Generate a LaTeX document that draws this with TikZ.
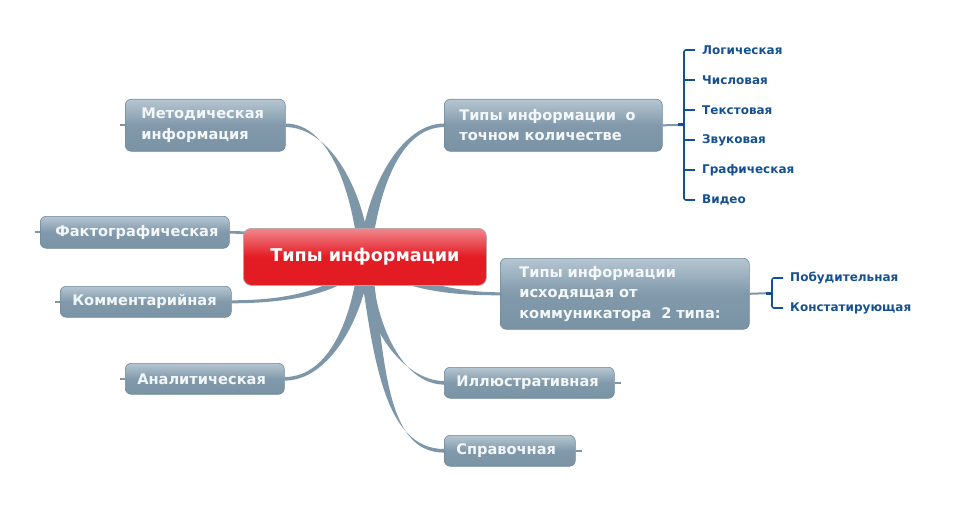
\documentclass[tikz,border=0pt]{standalone}
\usepackage{fontspec}
\setmainfont{DejaVu Sans}
\usetikzlibrary{calc}
\pgfdeclarelayer{bg}
\pgfsetlayers{bg,main}
\definecolor{boxtop}{HTML}{B5C6D1}
\definecolor{boxmid}{HTML}{8199AB}
\definecolor{boxbot}{HTML}{7993A5}
\definecolor{boxedge}{HTML}{6F899B}
\definecolor{branchcol}{HTML}{7D97A9}
\definecolor{redtop}{HTML}{F2868C}
\definecolor{redmain}{HTML}{E31B23}
\definecolor{rededge}{HTML}{B9A6A8}
\definecolor{listblue}{HTML}{16508F}
\definecolor{boxtext}{HTML}{F4F7F9}
\hyphenpenalty=10000
\exhyphenpenalty=10000
\newcommand\mmbranch[6]{\fill[branchcol] ($#1+#5$) .. controls ($#1+#2+#5$) and ($#3+#4+#6$) .. ($#3+#6$) -- ($#3-#6$) .. controls ($#3+#4-#6$) and ($#1+#2-#5$) .. ($#1-#5$) -- cycle;}
\tikzset{
 box/.style={rounded corners=6pt, top color=boxtop, bottom color=boxbot, middle color=boxmid,
   draw=boxedge, line width=0.6pt, text=boxtext, font=\bfseries\fontsize{14.6}{20.5}\selectfont,
   align=left, inner ysep=1pt, anchor=north west},
 centre/.style={rounded corners=8pt, top color=redtop, bottom color=redmain, middle color=redmain,
   draw=rededge, line width=0.8pt, text=white, font=\bfseries\fontsize{17.6}{22}\selectfont,
   align=center, minimum width=243pt, minimum height=57pt, inner sep=0pt, anchor=north west},
 item/.style={text=listblue, font=\bfseries\fontsize{12}{14}\selectfont, anchor=west, inner sep=0pt},
 listline/.style={draw=listblue, line width=1.6pt},
 stub/.style={draw=branchcol, line width=2pt},
 joint/.style={draw=listblue, line width=3pt},
}
\begin{document}
\begin{tikzpicture}[x=1pt,y=-1pt]
\useasboundingbox (0,0) rectangle (960,505);
% nodes
\node[centre] (ctr) at (243,228) {Типы информации};
\node[box, text width=128pt, inner xsep=16pt, minimum height=52pt] (meth) at (125,99) {Методическая\\информация};
\node[box, text width=188pt, inner xsep=15pt, minimum height=52pt] (tq) at (444,99) {Типы информации~ о\\точном количестве};
\node[box, text width=159pt, inner xsep=15pt, minimum height=32pt] (fakt) at (40,216) {Фактографическая};
\node[box, text width=147pt, inner xsep=12pt, minimum height=31pt] (komm) at (60,286) {Комментарийная};
\node[box, text width=135pt, inner xsep=12pt, minimum height=31pt] (anal) at (125,363) {Аналитическая};
\node[box, text width=211pt, inner xsep=19pt, minimum height=71pt] (isx) at (500,258) {Типы информации\\исходящая от\\коммуникатора~ 2 типа:};
\node[box, text width=146pt, inner xsep=12pt, minimum height=31pt] (ill) at (444,367) {Иллюстративная};
\node[box, text width=107pt, inner xsep=12pt, minimum height=31pt] (spr) at (444,435) {Справочная};
% list items
\node[item] (l1) at (702,50) {Логическая};
\node[item] (l2) at (702,80) {Числовая};
\node[item] (l3) at (702,110) {Текстовая};
\node[item] (l4) at (702,140) {Звуковая};
\node[item] (l5) at (702,170) {Графическая};
\node[item] (l6) at (702,200) {Видео};
\node[item] (p1) at (790,278) {Побудительная};
\node[item] (p2) at (790,308) {Констатирующая};
% branches
\begin{pgfonlayer}{bg}
\mmbranch{(ctr.center)}{(-8,-76)}{(meth.east)}{(40,0)}{(6,0)}{(0,1.8)}
\mmbranch{(ctr.center)}{(8,-76)}{(tq.west)}{(-40,0)}{(6,0)}{(0,1.8)}
\mmbranch{(ctr.center)}{(-50,-10)}{(fakt.east)}{(40,0)}{(0,5)}{(0,1.3)}
\mmbranch{(ctr.center)}{(-20,34)}{(komm.east)}{(59,0)}{(5,2)}{(0,1.5)}
\mmbranch{(ctr.center)}{(-6,60)}{(anal.east)}{(45,0)}{(6,0)}{(0,1.8)}
\mmbranch{(ctr.center)}{(3,70)}{(ill.west)}{(-40,0)}{(6,0)}{(0,1.8)}
\mmbranch{(ctr.center)}{(14,100)}{(spr.west)}{(-60,0)}{(6,0)}{(0,1.8)}
\mmbranch{(ctr.center)}{(40,30)}{(isx.west)}{(-45,0)}{(-3,5)}{(0,1.5)}
\end{pgfonlayer}
% stubs
\draw[stub] (meth.west) -- ++(-5,0);
\draw[stub] (fakt.west) -- ++(-5,0);
\draw[stub] (komm.west) -- ++(-5,0);
\draw[stub] (anal.west) -- ++(-5,0);
\draw[stub] (ill.east) -- ++(6,0);
\draw[stub] (spr.east) -- ++(6,0);
% list 1
\coordinate (j1) at ($(l1.west)!0.5!(l6.west)+(-18,0)$);
\draw[stub] (tq.east) -- (j1);
\draw[joint] ($(j1)+(-6,0)$) -- (j1);
\draw[listline, rounded corners=2pt] ($(l1.west)+(-7,0)$) -- ($(l1.west)+(-18,0)$) -- ($(l6.west)+(-18,0)$) -- ($(l6.west)+(-7,0)$);
\foreach \n in {l2,l3,l4,l5}{\draw[listline] ($(\n.west)+(-18,0)$) -- ($(\n.west)+(-7,0)$);}
% list 2
\coordinate (j2) at ($(p1.west)!0.5!(p2.west)+(-18,0)$);
\draw[stub] (isx.east) -- (j2);
\draw[joint] ($(j2)+(-6,0)$) -- (j2);
\draw[listline, rounded corners=2pt] ($(p1.west)+(-7,0)$) -- ($(p1.west)+(-18,0)$) -- ($(p2.west)+(-18,0)$) -- ($(p2.west)+(-7,0)$);
\end{tikzpicture}
\end{document}
